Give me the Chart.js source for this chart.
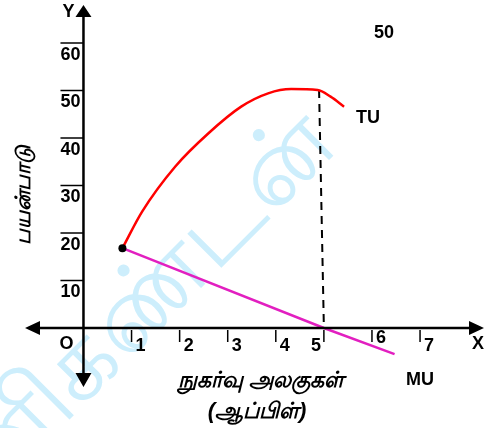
<!DOCTYPE html>
<html lang="ta">
<head>
<meta charset="UTF-8">
<title>TU MU</title>
<script src="https://cdn.jsdelivr.net/npm/chart.js@4.4.1/dist/chart.umd.min.js"></script>
<style>
  body { margin: 0; background: #fff; }
  #wrap { width: 488px; height: 428px; }
</style>
</head>
<body>
<div id="wrap"><canvas id="myChart" width="488" height="428"></canvas></div>
<script>
// values (x = units, y = utility)
var tuX = [0.81, 1.22, 1.91, 2.60, 3.28, 3.84, 4.32, 4.87, 5.14, 5.42];
var tuY = [16.8, 24.5, 34.0, 41.0, 46.6, 49.4, 50.3, 50.1, 48.7, 46.6];
var muX = [0.81, 5.0, 6.47];
var muY = [16.8, 0, -5.5];
var dropX = [4.9, 5.0];
var dropY = [50.1, 0];
var xTicks = [1, 2, 3, 4, 5, 6, 7];
var yTicks = [10, 20, 30, 40, 50, 60];
var xTitle = 'நுகர்வு அலகுகள்';
var xSub = '(ஆப்பிள்)';
var yTitle = 'பயன்பாடு';
var watermark = 'மணிகண்டன்';

function pts(xs, ys) {
    return xs.map(function (x, i) { return { x: x, y: ys[i] }; });
}

var LATIN = '"Liberation Sans", Arial, sans-serif';

// axes, arrows, ticks and all the text are drawn by hand
var axesPlugin = {
    id: 'axesPlugin',
    beforeDraw: function (chart) {
        var c = chart.ctx;
        c.save();
        c.fillStyle = '#fff';
        c.fillRect(0, 0, chart.width, chart.height);
        // faint watermark
        c.translate(110, 340);
        c.rotate(-Math.PI / 4);
        c.fillStyle = '#cdeefc';
        c.font = '100px sans-serif';
        c.textAlign = 'center';
        c.textBaseline = 'middle';
        c.fillText(watermark, 0, 0);
        c.restore();
    },
    afterDatasetsDraw: function (chart) {
        var c = chart.ctx;
        var xs = chart.scales.x, ys = chart.scales.y;
        var ox = xs.getPixelForValue(0), oy = ys.getPixelForValue(0);
        var L = xs.left, R = xs.right, T = ys.top, B = ys.bottom;
        c.save();
        c.strokeStyle = '#000';
        c.fillStyle = '#000';
        c.lineWidth = 2.5;
        c.beginPath();
        c.moveTo(L + 10, oy); c.lineTo(R - 10, oy);
        c.moveTo(ox, T + 10); c.lineTo(ox, B - 10);
        c.stroke();
        // arrow heads
        c.beginPath();
        c.moveTo(L, oy); c.lineTo(L + 15, oy - 7); c.lineTo(L + 15, oy + 7); c.closePath();
        c.moveTo(R, oy); c.lineTo(R - 15, oy - 7); c.lineTo(R - 15, oy + 7); c.closePath();
        c.moveTo(ox, T); c.lineTo(ox - 8, T + 12); c.lineTo(ox + 8, T + 12); c.closePath();
        c.moveTo(ox, B); c.lineTo(ox - 8, B - 14); c.lineTo(ox + 8, B - 14); c.closePath();
        c.fill();

        c.lineWidth = 1.5;
        c.font = 'bold 18px ' + LATIN;
        c.textBaseline = 'middle';
        // y ticks: short line with the number below it
        c.textAlign = 'center';
        yTicks.forEach(function (v) {
            var p = ys.getPixelForValue(v);
            c.beginPath(); c.moveTo(ox - 23, p); c.lineTo(ox, p); c.stroke();
            c.fillText(String(v), ox - 13, p + 12);
        });
        // x ticks: short line going down, number beside it
        xTicks.forEach(function (v) {
            var p = xs.getPixelForValue(v);
            c.beginPath(); c.moveTo(p, oy + 2); c.lineTo(p, oy + 14); c.stroke();
            var dx = v === 5 ? -8 : 9;
            var dy = v === 6 ? 10 : 18;
            c.fillText(String(v), p + dx, oy + dy);
        });
        c.fillText('O', ox - 17, oy + 16);
        c.fillText('X', R - 6, oy + 16);
        c.fillText('Y', ox - 15, T + 7);
        c.fillText('TU', 368, 118);
        c.fillText('MU', 420, 380);
        c.fillText('50', 384, 33);

        // axis titles
        c.font = 'italic bold 22px sans-serif';
        c.fillText(xTitle, 261, 381);
        c.fillText(xSub, 257, 412);
        c.font = 'italic bold 21px sans-serif';
        c.translate(24, 195);
        c.rotate(-Math.PI / 2);
        c.fillText(yTitle, 0, 0);
        c.restore();
    }
};

var data = {
    datasets: [
        {
            label: 'point',
            data: pts([tuX[0]], [tuY[0]]),
            pointRadius: 4,
            pointBackgroundColor: '#000',
            pointBorderWidth: 0,
            showLine: false,
            order: 0
        },
        {
            label: 'TU',
            data: pts(tuX, tuY),
            borderColor: '#ff0000',
            borderWidth: 2.5,
            pointRadius: 0,
            showLine: true,
            cubicInterpolationMode: 'monotone',
            order: 1
        },
        {
            label: 'MU',
            data: pts(muX, muY),
            borderColor: '#e21fc0',
            borderWidth: 2.5,
            pointRadius: 0,
            showLine: true,
            order: 1
        },
        {
            label: 'drop',
            data: pts(dropX, dropY),
            borderColor: '#000',
            borderWidth: 2,
            borderDash: [8, 6],
            pointRadius: 0,
            showLine: true,
            order: 2
        }
    ]
};

var chart = new Chart(document.getElementById('myChart'), {
    type: 'scatter',
    data: data,
    options: {
        responsive: false,
        animation: false,
        layout: { padding: { left: 25, right: 0, top: 5, bottom: 41 } },
        plugins: { legend: { display: false }, tooltip: { enabled: false } },
        scales: {
            x: { type: 'linear', display: false, min: -1.216, max: 8.33 },
            y: { type: 'linear', display: false, min: -12.42, max: 68 }
        }
    },
    plugins: [axesPlugin]
});
</script>
</body>
</html>
